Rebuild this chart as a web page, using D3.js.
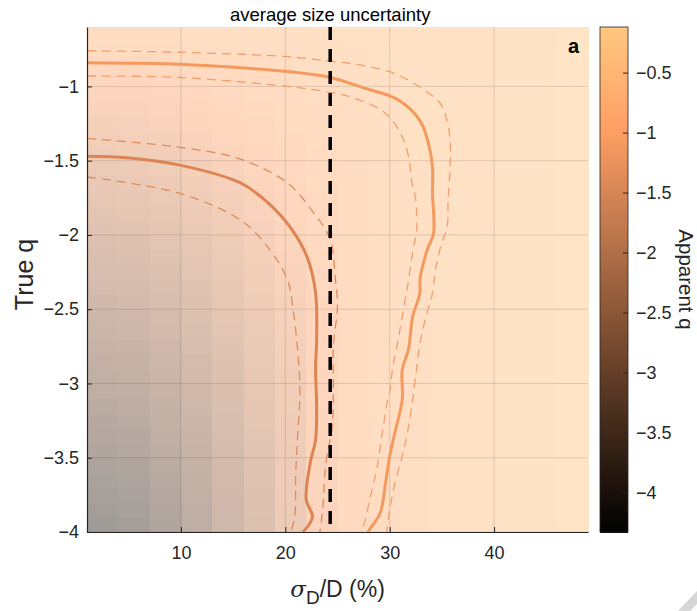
<!DOCTYPE html>
<html>
<head>
<meta charset="utf-8">
<script src="https://cdn.jsdelivr.net/npm/d3@7"></script>
<style>
  body { margin: 0; background: #fff; }
  svg { font-family: "Liberation Sans", Arial, Helvetica, sans-serif; }
</style>
</head>
<body>
<svg id="chart" width="697" height="611"></svg>
<script>
// sigma_D/D (%) cell centres, and True q cell centres
var sigmaCols = [2.5, 5.5, 8.5, 11.5, 14.5, 17.5, 20.5, 23.5, 26.5, 29.5, 32.5, 35.5, 38.5, 41.5, 44.5, 47.5];
var trueQRows = [-3.95, -3.85, -3.75, -3.65, -3.55, -3.45, -3.35, -3.25, -3.15, -3.05,
                 -2.95, -2.85, -2.75, -2.65, -2.55, -2.45, -2.35, -2.25, -2.15, -2.05,
                 -1.95, -1.85, -1.75, -1.65, -1.55, -1.45, -1.35, -1.25, -1.15, -1.05,
                 -0.95, -0.85, -0.75, -0.65];

// apparent q, one row per true q (bottom to top)
var apparentQ = [
  [-3.95,-3.80,-3.40,-3.00,-2.50,-2.00,-1.50,-1.05,-0.75,-0.60,-0.50,-0.43,-0.38,-0.34,-0.31,-0.30],
  [-3.80,-3.65,-3.32,-2.95,-2.46,-1.98,-1.49,-1.05,-0.75,-0.60,-0.50,-0.43,-0.38,-0.34,-0.31,-0.30],
  [-3.70,-3.56,-3.25,-2.89,-2.42,-1.96,-1.48,-1.04,-0.75,-0.60,-0.50,-0.43,-0.38,-0.34,-0.31,-0.30],
  [-3.60,-3.47,-3.18,-2.83,-2.38,-1.93,-1.47,-1.04,-0.75,-0.60,-0.50,-0.43,-0.38,-0.34,-0.31,-0.30],
  [-3.50,-3.38,-3.10,-2.77,-2.34,-1.90,-1.46,-1.03,-0.75,-0.60,-0.50,-0.43,-0.38,-0.34,-0.31,-0.30],
  [-3.40,-3.29,-3.02,-2.70,-2.29,-1.87,-1.45,-1.03,-0.74,-0.60,-0.50,-0.43,-0.38,-0.34,-0.31,-0.30],
  [-3.30,-3.20,-2.94,-2.63,-2.24,-1.84,-1.43,-1.02,-0.74,-0.59,-0.50,-0.43,-0.38,-0.34,-0.31,-0.30],
  [-3.20,-3.11,-2.86,-2.56,-2.19,-1.80,-1.41,-1.01,-0.74,-0.59,-0.50,-0.43,-0.38,-0.34,-0.31,-0.30],
  [-3.10,-3.01,-2.78,-2.49,-2.14,-1.76,-1.39,-1.00,-0.73,-0.59,-0.50,-0.43,-0.38,-0.34,-0.31,-0.30],
  [-3.00,-2.92,-2.70,-2.42,-2.08,-1.72,-1.37,-0.99,-0.73,-0.58,-0.49,-0.43,-0.38,-0.34,-0.31,-0.30],
  [-2.91,-2.83,-2.62,-2.35,-2.02,-1.68,-1.34,-0.98,-0.72,-0.58,-0.49,-0.43,-0.38,-0.34,-0.31,-0.30],
  [-2.81,-2.73,-2.53,-2.28,-1.96,-1.64,-1.31,-0.97,-0.72,-0.58,-0.49,-0.43,-0.38,-0.34,-0.31,-0.30],
  [-2.71,-2.64,-2.45,-2.20,-1.90,-1.60,-1.28,-0.95,-0.71,-0.57,-0.49,-0.43,-0.38,-0.34,-0.31,-0.30],
  [-2.61,-2.54,-2.36,-2.13,-1.84,-1.55,-1.25,-0.94,-0.70,-0.57,-0.49,-0.42,-0.38,-0.34,-0.31,-0.30],
  [-2.51,-2.45,-2.28,-2.05,-1.78,-1.50,-1.22,-0.92,-0.70,-0.57,-0.49,-0.42,-0.38,-0.34,-0.31,-0.30],
  [-2.41,-2.35,-2.19,-1.98,-1.72,-1.45,-1.19,-0.90,-0.69,-0.56,-0.48,-0.42,-0.37,-0.34,-0.31,-0.30],
  [-2.31,-2.26,-2.10,-1.90,-1.66,-1.40,-1.15,-0.88,-0.68,-0.56,-0.48,-0.42,-0.37,-0.34,-0.31,-0.30],
  [-2.22,-2.16,-2.02,-1.82,-1.59,-1.35,-1.11,-0.86,-0.67,-0.55,-0.48,-0.42,-0.37,-0.34,-0.31,-0.30],
  [-2.12,-2.07,-1.93,-1.75,-1.53,-1.30,-1.07,-0.84,-0.66,-0.55,-0.48,-0.42,-0.37,-0.34,-0.31,-0.30],
  [-2.02,-1.97,-1.84,-1.67,-1.46,-1.25,-1.03,-0.82,-0.65,-0.54,-0.47,-0.41,-0.37,-0.34,-0.31,-0.30],
  [-1.92,-1.88,-1.76,-1.59,-1.40,-1.20,-0.99,-0.80,-0.64,-0.54,-0.47,-0.41,-0.37,-0.34,-0.31,-0.30],
  [-1.82,-1.78,-1.67,-1.51,-1.33,-1.14,-0.95,-0.78,-0.63,-0.53,-0.47,-0.41,-0.37,-0.33,-0.31,-0.30],
  [-1.72,-1.69,-1.58,-1.43,-1.27,-1.09,-0.92,-0.76,-0.62,-0.53,-0.46,-0.41,-0.37,-0.33,-0.31,-0.30],
  [-1.63,-1.59,-1.49,-1.36,-1.20,-1.04,-0.88,-0.73,-0.61,-0.52,-0.46,-0.41,-0.37,-0.33,-0.31,-0.30],
  [-1.53,-1.50,-1.40,-1.28,-1.14,-0.99,-0.84,-0.71,-0.60,-0.51,-0.46,-0.41,-0.36,-0.33,-0.31,-0.30],
  [-1.43,-1.40,-1.32,-1.20,-1.07,-0.94,-0.80,-0.68,-0.58,-0.51,-0.45,-0.40,-0.36,-0.33,-0.31,-0.30],
  [-1.33,-1.30,-1.23,-1.12,-1.00,-0.88,-0.76,-0.65,-0.57,-0.50,-0.45,-0.40,-0.36,-0.33,-0.31,-0.30],
  [-1.23,-1.21,-1.14,-1.04,-0.94,-0.83,-0.72,-0.63,-0.55,-0.49,-0.44,-0.40,-0.36,-0.33,-0.31,-0.30],
  [-1.13,-1.11,-1.05,-0.97,-0.87,-0.78,-0.68,-0.60,-0.54,-0.48,-0.44,-0.40,-0.36,-0.33,-0.31,-0.30],
  [-1.04,-1.02,-0.97,-0.89,-0.81,-0.72,-0.65,-0.58,-0.52,-0.47,-0.43,-0.39,-0.36,-0.33,-0.31,-0.30],
  [-0.94,-0.92,-0.88,-0.82,-0.75,-0.68,-0.61,-0.55,-0.50,-0.46,-0.43,-0.39,-0.36,-0.33,-0.31,-0.30],
  [-0.84,-0.83,-0.79,-0.74,-0.68,-0.63,-0.57,-0.52,-0.48,-0.45,-0.42,-0.39,-0.36,-0.33,-0.31,-0.30],
  [-0.74,-0.73,-0.70,-0.66,-0.62,-0.58,-0.53,-0.49,-0.46,-0.44,-0.41,-0.38,-0.35,-0.33,-0.31,-0.30],
  [-0.64,-0.63,-0.61,-0.59,-0.56,-0.53,-0.50,-0.47,-0.45,-0.43,-0.41,-0.38,-0.35,-0.33,-0.31,-0.30]
];

// contour lines [sigma, trueQ]
var upperSolid = [[1,-0.84],[9.9,-0.85],[14.7,-0.87],[20.2,-0.90],[24.3,-0.94],[27.5,-1.01],[30.8,-1.09],[32.9,-1.23],[33.7,-1.38],[34.1,-1.54],[34.1,-1.72],[34.2,-1.99],[33.6,-2.10],[32.9,-2.30],[32.9,-2.39],[32.2,-2.55],[31.8,-2.77],[31.2,-2.91],[31.2,-3.11],[30.5,-3.33],[30.0,-3.49],[29.6,-3.67],[29.1,-3.87],[28.1,-3.98],[27.9,-4.0]];
var upperDashOut = [[1,-0.76],[9.9,-0.77],[20.2,-0.80],[24.3,-0.83],[27.5,-0.86],[30.7,-0.92],[33.2,-1.02],[34.8,-1.11],[35.5,-1.23],[35.8,-1.38],[35.8,-1.54],[35.6,-1.76],[35.5,-1.95],[35.0,-2.05],[34.4,-2.23],[34.1,-2.39],[33.4,-2.57],[32.9,-2.73],[32.6,-2.89],[32.2,-3.11],[31.7,-3.33],[31.2,-3.49],[30.5,-3.67],[30.0,-3.85],[29.7,-4.0]];
var upperDashIn = [[1,-0.93],[9.9,-0.94],[20.2,-1.00],[24.3,-1.04],[26.2,-1.07],[29.4,-1.17],[31.0,-1.31],[31.8,-1.47],[32.2,-1.68],[32.4,-1.72],[32.6,-1.95],[32.2,-2.12],[31.7,-2.35],[31.2,-2.55],[30.8,-2.71],[30.3,-2.89],[30.0,-3.06],[29.8,-3.11],[29.3,-3.33],[28.8,-3.56],[28.1,-3.78],[27.4,-3.98],[27.2,-4.0]];
var lowerSolid = [[1,-1.47],[4.8,-1.48],[9.9,-1.53],[15.7,-1.65],[18.3,-1.78],[20.5,-1.95],[22.1,-2.15],[22.9,-2.39],[23.0,-2.71],[22.9,-2.89],[23.0,-3.16],[22.9,-3.38],[22.4,-3.53],[22.0,-3.78],[22.6,-3.90],[21.7,-4.0]];
var lowerDashOut = [[1,-1.35],[9.9,-1.41],[15.7,-1.49],[20.2,-1.65],[22.7,-1.85],[24.3,-2.03],[24.8,-2.30],[25.0,-2.48],[24.6,-2.75],[24.6,-3.02],[24.5,-3.29],[23.9,-3.53],[23.6,-3.83],[23.4,-3.96],[23.3,-4.0]];
var lowerDashIn = [[1,-1.61],[9.9,-1.72],[15.7,-1.90],[18.3,-2.08],[20.2,-2.30],[20.7,-2.48],[21.2,-2.79],[21.4,-3.06],[21.2,-3.33],[21.0,-3.60],[20.9,-3.90],[20.5,-4.0]];

var avgUncertainty = 24.3;
var xTicks = [10, 20, 30, 40];
var yTicks = [-4, -3.5, -3, -2.5, -2, -1.5, -1];
var cbTicks = [-4, -3.5, -3, -2.5, -2, -1.5, -1, -0.5];

var svg = d3.select('#chart');
var mLeft = 87, mRight = 588, mTop = 27, mBottom = 532;

var x = d3.scaleLinear().domain([1, 49]).range([mLeft, mRight]);
var y = d3.scaleLinear().domain([-4, -0.6]).range([mBottom, mTop]);
var cb = d3.scaleLinear().domain([-4.33, -0.12]).range([mBottom, mTop]);

// MATLAB copper colormap
function copper(v) {
    var t = Math.max(0, Math.min(1, (v + 4.33) / 4.21));
    return d3.rgb(255 * Math.min(1, 1.25 * t), 255 * 0.7812 * t, 255 * 0.4975 * t).toString();
}
function fmt(d) { return String(d).replace('-', '\u2212'); }

// heatmap cells
var cells = [];
trueQRows.forEach(function (q, i) {
    sigmaCols.forEach(function (s, j) {
        cells.push({ s: s, q: q, v: apparentQ[i][j] });
    });
});

svg.append('g')
    .attr('opacity', 0.42)
    .selectAll('rect')
    .data(cells)
    .enter()
    .append('rect')
    .attr('x', function (d) { return x(d.s - 1.5); })
    .attr('y', function (d) { return y(d.q + 0.05); })
    .attr('width', function (d) { return x(d.s + 1.5) - x(d.s - 1.5) + 0.6; })
    .attr('height', function (d) { return y(d.q - 0.05) - y(d.q + 0.05) + 0.6; })
    .style('fill', function (d) { return copper(d.v); })
    .attr('shape-rendering', 'crispEdges');

// grid
var grid = svg.append('g').attr('stroke', '#262626').attr('stroke-opacity', 0.14).attr('stroke-width', 1);
grid.selectAll('line.gx').data(xTicks).enter().append('line')
    .attr('x1', function (d) { return x(d); }).attr('x2', function (d) { return x(d); })
    .attr('y1', mTop).attr('y2', mBottom);
grid.selectAll('line.gy').data(yTicks).enter().append('line')
    .attr('y1', function (d) { return y(d); }).attr('y2', function (d) { return y(d); })
    .attr('x1', mLeft).attr('x2', mRight);

// contours
var line = d3.line()
    .curve(d3.curveCatmullRom.alpha(0.5))
    .x(function (d) { return x(d[0]); })
    .y(function (d) { return y(d[1]); });

var contours = [
    { data: upperDashOut, color: '#f0a070', width: 1.3, dash: '9,6' },
    { data: upperDashIn, color: '#f0a070', width: 1.3, dash: '9,6' },
    { data: upperSolid, color: '#f59a5e', width: 3, dash: null },
    { data: lowerDashOut, color: '#dc8c5e', width: 1.3, dash: '9,6' },
    { data: lowerDashIn, color: '#dc8c5e', width: 1.3, dash: '9,6' },
    { data: lowerSolid, color: '#dc8552', width: 3, dash: null }
];
svg.append('g')
    .selectAll('path')
    .data(contours)
    .enter()
    .append('path')
    .attr('d', function (d) { return line(d.data); })
    .attr('fill', 'none')
    .attr('stroke', function (d) { return d.color; })
    .attr('stroke-width', function (d) { return d.width; })
    .attr('stroke-dasharray', function (d) { return d.dash; })
    .attr('stroke-linejoin', 'round');

// average size uncertainty
svg.append('line')
    .attr('x1', x(avgUncertainty)).attr('x2', x(avgUncertainty))
    .attr('y1', mTop).attr('y2', mBottom)
    .attr('stroke', '#000')
    .attr('stroke-width', 3.5)
    .attr('stroke-dasharray', '13,9');
svg.append('text')
    .attr('x', x(avgUncertainty))
    .attr('y', 21)
    .attr('text-anchor', 'middle')
    .style('font-size', '18.5px')
    .text('average size uncertainty');

svg.append('text')
    .attr('x', 579).attr('y', 53)
    .attr('text-anchor', 'end')
    .style('font-size', '20px')
    .style('font-weight', 'bold')
    .text('a');

// axes
var xAxis = d3.axisBottom(x).tickValues(xTicks).tickSizeInner(-5).tickSizeOuter(0).tickPadding(14);
var yAxis = d3.axisLeft(y).tickValues(yTicks).tickSizeInner(-5).tickSizeOuter(0).tickPadding(8)
    .tickFormat(fmt);

var gx = svg.append('g').attr('transform', 'translate(0,' + mBottom + ')').call(xAxis);
var gy = svg.append('g').attr('transform', 'translate(' + mLeft + ',0)').call(yAxis);
[gx, gy].forEach(function (g) {
    g.select('.domain').attr('stroke', '#262626').attr('stroke-width', 1.2);
    g.selectAll('.tick line').attr('stroke', '#262626');
    g.selectAll('.tick text').style('font-size', '18px').attr('fill', '#262626')
        .style('font-family', '"Liberation Sans", Arial, sans-serif');
});

svg.append('text')
    .attr('transform', 'translate(33,' + ((mTop + mBottom) / 2 - 5) + ') rotate(-90)')
    .attr('text-anchor', 'middle')
    .style('font-size', '25px')
    .attr('fill', '#262626')
    .text('True q');

var xl = svg.append('text')
    .attr('x', (mLeft + mRight) / 2)
    .attr('y', 597)
    .attr('text-anchor', 'middle')
    .style('font-size', '23px')
    .attr('fill', '#262626');
xl.append('tspan').style('font-family', '"DejaVu Serif", serif').style('font-style', 'italic').text('σ');
xl.append('tspan').attr('dy', 7).style('font-size', '19px').text('D');
xl.append('tspan').attr('dy', -7).text('/D (%)');

// colorbar
var cbLeft = 600, cbWidth = 28;
var cbLevels = d3.range(0, 256);
var cbStep = (cb.domain()[1] - cb.domain()[0]) / 256;
svg.append('g')
    .selectAll('rect')
    .data(cbLevels)
    .enter()
    .append('rect')
    .attr('x', cbLeft)
    .attr('width', cbWidth)
    .attr('y', function (d) { return cb(cb.domain()[0] + (d + 1) * cbStep); })
    .attr('height', function (d) { return cb(cb.domain()[0] + d * cbStep) - cb(cb.domain()[0] + (d + 1) * cbStep) + 0.5; })
    .style('fill', function (d) { return copper(cb.domain()[0] + (d + 0.5) * cbStep); })
    .attr('shape-rendering', 'crispEdges');
svg.append('rect')
    .attr('x', cbLeft).attr('y', mTop)
    .attr('width', cbWidth).attr('height', mBottom - mTop)
    .attr('fill', 'none').attr('stroke', '#262626').attr('stroke-width', 0.8);

var cbAxis = d3.axisRight(cb).tickValues(cbTicks).tickSizeInner(-5).tickSizeOuter(0).tickPadding(8)
    .tickFormat(fmt);
var gc = svg.append('g').attr('transform', 'translate(' + (cbLeft + cbWidth) + ',0)').call(cbAxis);
gc.select('.domain').remove();
gc.selectAll('.tick line').attr('stroke', '#262626');
gc.selectAll('.tick text').style('font-size', '18px').attr('fill', '#262626')
    .style('font-family', '"Liberation Sans", Arial, sans-serif');

svg.append('text')
    .attr('transform', 'translate(679,' + ((mTop + mBottom) / 2) + ') rotate(90)')
    .attr('text-anchor', 'middle')
    .style('font-size', '20.5px')
    .attr('fill', '#262626')
    .text('Apparent q');

// page corner mark
svg.append('polygon')
    .attr('points', '697,591 697,604 690,611 678,611')
    .attr('fill', '#d6d6d6');
</script>
</body>
</html>
